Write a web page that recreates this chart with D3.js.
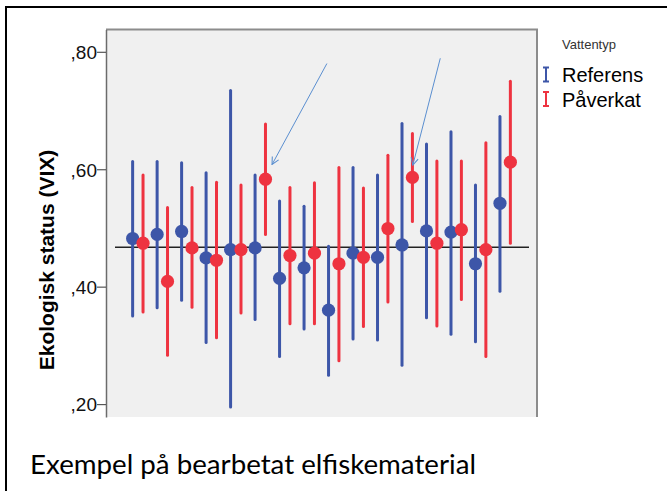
<!DOCTYPE html>
<meta charset="utf-8">
<style>
body { margin: 0; background: #fff; }
svg { display: block; }
</style>
<svg width="667" height="491"></svg>
<script src="https://d3js.org/d3.v7.min.js"></script>
<script>

// 16 groups, no x labels in the original
var categories = d3.range(1, 17)

var refMean = [0.482, 0.489, 0.494, 0.449, 0.463, 0.466, 0.414, 0.432, 0.360, 0.457, 0.450, 0.471, 0.495, 0.493, 0.439, 0.542]
var refLow  = [0.350, 0.364, 0.377, 0.305, 0.195, 0.344, 0.281, 0.328, 0.249, 0.311, 0.309, 0.266, 0.347, 0.319, 0.306, 0.392]
var refHigh = [0.613, 0.613, 0.611, 0.594, 0.734, 0.590, 0.546, 0.537, 0.469, 0.603, 0.590, 0.678, 0.643, 0.664, 0.573, 0.690]

var pavMean = [0.474, 0.409, 0.466, 0.445, 0.463, 0.583, 0.453, 0.457, 0.439, 0.450, 0.499, 0.586, 0.474, 0.497, 0.463, 0.612]
var pavLow  = [0.357, 0.283, 0.365, 0.313, 0.355, 0.489, 0.337, 0.337, 0.274, 0.332, 0.374, 0.511, 0.333, 0.378, 0.281, 0.474]
var pavHigh = [0.590, 0.535, 0.569, 0.578, 0.573, 0.677, 0.569, 0.577, 0.603, 0.568, 0.624, 0.661, 0.614, 0.614, 0.645, 0.750]

var refLine = 0.467
var yTicks = [0.2, 0.4, 0.6, 0.8]

var seriesNames = ['Referens', 'Påverkat']
var seriesColors = ['#3d56a8', '#ee3340']

// arrows: [group index start, value start, group index end, value end]
var arrows = [[7.72, 0.780, 5.48, 0.608], [12.35, 0.789, 11.23, 0.607]]

var svg = d3.select('svg')

var plot = {left: 106, right: 537, top: 29.5, bottom: 417}

var xScale = d3.scalePoint().domain(categories).range([plot.left, plot.right]).padding(1.3)
var xIdx = d3.scaleLinear().domain([0, categories.length - 1])
  .range([xScale(categories[0]), xScale(categories[categories.length - 1])])
var yScale = d3.scaleLinear().domain([0.178, 0.838]).range([plot.bottom, plot.top])

// outer frame
svg.append('rect')
  .attr('x', 6).attr('y', 7).attr('width', 700).attr('height', 500)
  .attr('fill', 'none').attr('stroke', '#000').attr('stroke-width', 2)

// plot background
svg.append('rect')
  .attr('x', plot.left).attr('y', plot.top)
  .attr('width', plot.right - plot.left).attr('height', plot.bottom - plot.top)
  .attr('fill', '#f0f0f0')

svg.append('path')
  .attr('d', 'M' + plot.left + ',' + plot.top + 'H' + plot.right + 'V' + plot.bottom)
  .attr('fill', 'none').attr('stroke', '#8c8c8c').attr('stroke-width', 2)

// y axis
var yAxis = svg.append('g')
  .attr('transform', 'translate(' + plot.left + ',0)')
  .call(d3.axisLeft(yScale).tickValues(yTicks).tickSize(9).tickSizeOuter(0)
    .tickFormat(function (d) { return ',' + d3.format('.2f')(d).slice(2) }))
yAxis.select('.domain').attr('stroke', '#6b6b6b').attr('stroke-width', 1.5)
yAxis.selectAll('.tick line').attr('stroke', '#555').attr('stroke-width', 1.2)
yAxis.selectAll('.tick text')
  .attr('x', -9).attr('dy', '0.36em')
  .style('font-family', 'Liberation Sans, Arial, sans-serif')
  .style('font-size', '19px').attr('fill', '#111')

svg.append('text')
  .attr('transform', 'translate(54,' + 260 + ')rotate(-90)')
  .attr('text-anchor', 'middle')
  .style('font-family', 'Liberation Sans, Arial, sans-serif')
  .style('font-weight', 'bold')
  .style('font-size', '21px')
  .text('Ekologisk status (VIX)')

// reference line
svg.append('line')
  .attr('x1', plot.left + 9).attr('x2', plot.right - 8)
  .attr('y1', yScale(refLine)).attr('y2', yScale(refLine))
  .attr('stroke', '#222').attr('stroke-width', 1.4)

var series = [
  {name: seriesNames[0], color: seriesColors[0], off: -5.2, mean: refMean, low: refLow, high: refHigh},
  {name: seriesNames[1], color: seriesColors[1], off: 5.2, mean: pavMean, low: pavLow, high: pavHigh}
]

categories.forEach(function (c, i) {
  series.forEach(function (s) {
    var x = xScale(c) + s.off
    svg.append('line')
      .attr('x1', x).attr('x2', x)
      .attr('y1', yScale(s.low[i])).attr('y2', yScale(s.high[i]))
      .attr('stroke', s.color).attr('stroke-width', 3)
      .attr('stroke-linecap', 'round')
    svg.append('circle')
      .attr('cx', x).attr('cy', yScale(s.mean[i])).attr('r', 6.6)
      .attr('fill', s.color)
  })
})

// arrows
svg.append('defs').append('marker')
  .attr('id', 'head').attr('viewBox', '0 0 10 10')
  .attr('refX', 9).attr('refY', 5)
  .attr('markerWidth', 9).attr('markerHeight', 9)
  .attr('markerUnits', 'userSpaceOnUse')
  .attr('orient', 'auto')
  .append('path').attr('d', 'M1,1 L9,5 L1,9')
  .attr('fill', 'none').attr('stroke', '#5b8fd0').attr('stroke-width', 1.2)

svg.selectAll('.arrow').data(arrows).enter().append('line')
  .attr('class', 'arrow')
  .attr('x1', function (d) { return xIdx(d[0]) }).attr('y1', function (d) { return yScale(d[1]) })
  .attr('x2', function (d) { return xIdx(d[2]) }).attr('y2', function (d) { return yScale(d[3]) })
  .attr('stroke', '#5b8fd0').attr('stroke-width', 1)
  .attr('marker-end', 'url(#head)')

// legend
svg.append('text')
  .attr('x', 562).attr('y', 49)
  .style('font-family', 'Liberation Sans, Arial, sans-serif')
  .style('font-size', '13px').attr('fill', '#333')
  .text('Vattentyp')

var leg = svg.selectAll('.leg').data(series).enter().append('g')
  .attr('class', 'leg')
  .attr('transform', function (d, i) { return 'translate(546,' + (82 + i * 24.5) + ')' })
leg.append('path')
  .attr('d', 'M-3,-14.5H3M0,-14.5V-0.5M-3,-0.5H3')
  .attr('fill', 'none')
  .attr('stroke', function (d) { return d.color }).attr('stroke-width', 2)
leg.append('text')
  .attr('x', 16).attr('y', 0)
  .style('font-family', 'Liberation Sans, Arial, sans-serif')
  .style('font-size', '20px').attr('fill', '#000')
  .text(function (d) { return d.name })

// caption
svg.append('text')
  .attr('x', 30).attr('y', 474)
  .style('font-family', 'Lato, Open Sans, sans-serif')
  .style('font-size', '27.7px').attr('fill', '#000')
  .text('Exempel på bearbetat elfiskematerial')

</script>
